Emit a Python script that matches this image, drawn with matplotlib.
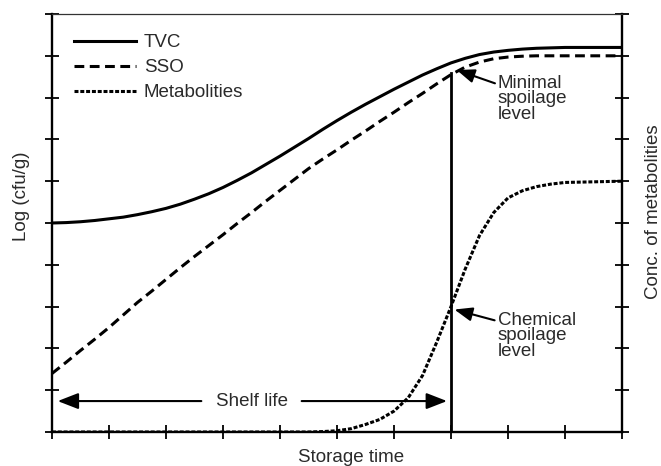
import matplotlib
matplotlib.use("Agg")
import matplotlib.pyplot as plt

plt.rcParams["font.family"] = ["Liberation Sans", "DejaVu Sans"]

# storage time axis (arbitrary units)
time = [0, 0.25, 0.5, 0.75, 1, 1.25, 1.5, 1.75, 2, 2.25, 2.5, 2.75, 3, 3.25, 3.5,
        3.75, 4, 4.25, 4.5, 4.75, 5, 5.25, 5.5, 5.75, 6, 6.25, 6.5, 6.75, 7,
        7.25, 7.5, 7.75, 8, 8.25, 8.5, 8.75, 9, 10]
tvc = [5.0, 5.01, 5.03, 5.06, 5.1, 5.14, 5.2, 5.27, 5.35, 5.45, 5.57, 5.7, 5.85,
       6.02, 6.2, 6.4, 6.6, 6.81, 7.02, 7.24, 7.45, 7.65, 7.84, 8.02, 8.2, 8.37,
       8.54, 8.69, 8.83, 8.94, 9.03, 9.09, 9.13, 9.16, 9.18, 9.19, 9.2, 9.2]
sso = [1.4, 1.67, 1.95, 2.22, 2.5, 2.8, 3.1, 3.37, 3.65, 3.93, 4.2, 4.46, 4.72,
       4.99, 5.25, 5.52, 5.78, 6.04, 6.3, 6.53, 6.75, 6.98, 7.2, 7.43, 7.65,
       7.88, 8.1, 8.33, 8.55, 8.73, 8.85, 8.93, 8.97, 8.99, 9.0, 9.0, 9.0, 9.0]

met_time = [0, 4.5, 4.75, 5, 5.25, 5.5, 5.75, 6, 6.25, 6.5, 6.75, 7, 7.25, 7.5,
            7.75, 8, 8.25, 8.5, 8.75, 9, 10]
metabolites = [0, 0, 0.01, 0.03, 0.08, 0.18, 0.3, 0.5, 0.82, 1.35, 2.15, 3.0,
               3.9, 4.7, 5.25, 5.6, 5.77, 5.87, 5.93, 5.97, 6.0]

shelf_life_end = 7.0
spoilage_top = 8.58

txt = "#2a2a2a"
fs = 13.5
arrow_style = "-|>,head_length=0.9,head_width=0.35"

fig = plt.figure(figsize=(6.61, 4.66), dpi=100)
ax = fig.add_axes([52 / 661, 34 / 466, 570 / 661, 418 / 466])

ax.plot(time, tvc, color="k", lw=2.2, label="TVC")
ax.plot(time, sso, color="k", lw=2.2, ls=(0, (3.2, 1.8)), label="SSO")
ax.plot(met_time, metabolites, color="k", lw=2.2, ls=(0, (1.3, 0.6)),
        label="Metabolities")

# end of shelf life
ax.plot([shelf_life_end, shelf_life_end], [0, spoilage_top], color="k", lw=2.0)

ax.set_xlim(0, 10)
ax.set_ylim(0, 10)
ax.set_xticks(range(0, 11))
ax.set_yticks(range(0, 11))
ax.tick_params(axis="both", direction="inout", length=10, width=1.3,
               labelleft=False, labelbottom=False, right=True)

for side in ("left", "bottom", "right"):
    ax.spines[side].set_linewidth(1.7)
ax.spines["top"].set_linewidth(0.9)
ax.spines["top"].set_color("#333333")

# shelf life arrow
ax.annotate("", xy=(0.1, 0.74), xytext=(2.62, 0.74),
            arrowprops=dict(arrowstyle=arrow_style, lw=1.5, color="k",
                            shrinkA=0, shrinkB=0, mutation_scale=14))
ax.annotate("", xy=(6.93, 0.74), xytext=(4.38, 0.74),
            arrowprops=dict(arrowstyle=arrow_style, lw=1.5, color="k",
                            shrinkA=0, shrinkB=0, mutation_scale=14))
ax.text(3.5, 0.74, "Shelf life", ha="center", va="center", fontsize=fs,
        color=txt)

# spoilage level callouts
ax.annotate("Minimal\nspoilage\nlevel", xy=(7.1, 8.66), xytext=(7.82, 8.55),
            ha="left", va="top", fontsize=fs, color=txt, linespacing=0.9,
            arrowprops=dict(arrowstyle=arrow_style, lw=1.5, color="k",
                            shrinkA=0, shrinkB=0, mutation_scale=12,
                            relpos=(-0.04, 0.82)))
ax.annotate("Chemical\nspoilage\nlevel", xy=(7.06, 2.93), xytext=(7.82, 2.88),
            ha="left", va="top", fontsize=fs, color=txt, linespacing=0.9,
            arrowprops=dict(arrowstyle=arrow_style, lw=1.5, color="k",
                            shrinkA=0, shrinkB=0, mutation_scale=12,
                            relpos=(-0.04, 0.82)))

leg = ax.legend(loc="upper left", bbox_to_anchor=(0.038, 0.952), frameon=False,
                fontsize=fs, handlelength=3.3, handletextpad=0.45,
                labelspacing=0.42, borderpad=0, borderaxespad=0)
for t in leg.get_texts():
    t.set_color(txt)

fig.text(351 / 661, 1 - 458 / 466, "Storage time", ha="center", va="center",
         fontsize=fs, color=txt)
fig.text(22 / 661, 1 - 196 / 466, "Log (cfu/g)", ha="center", va="center",
         rotation=90, fontsize=fs, color=txt)
fig.text(653 / 661, 1 - 212 / 466, "Conc. of metabolities", ha="center",
         va="center", rotation=90, fontsize=fs, color=txt)

fig.savefig("out.png", dpi=100)
